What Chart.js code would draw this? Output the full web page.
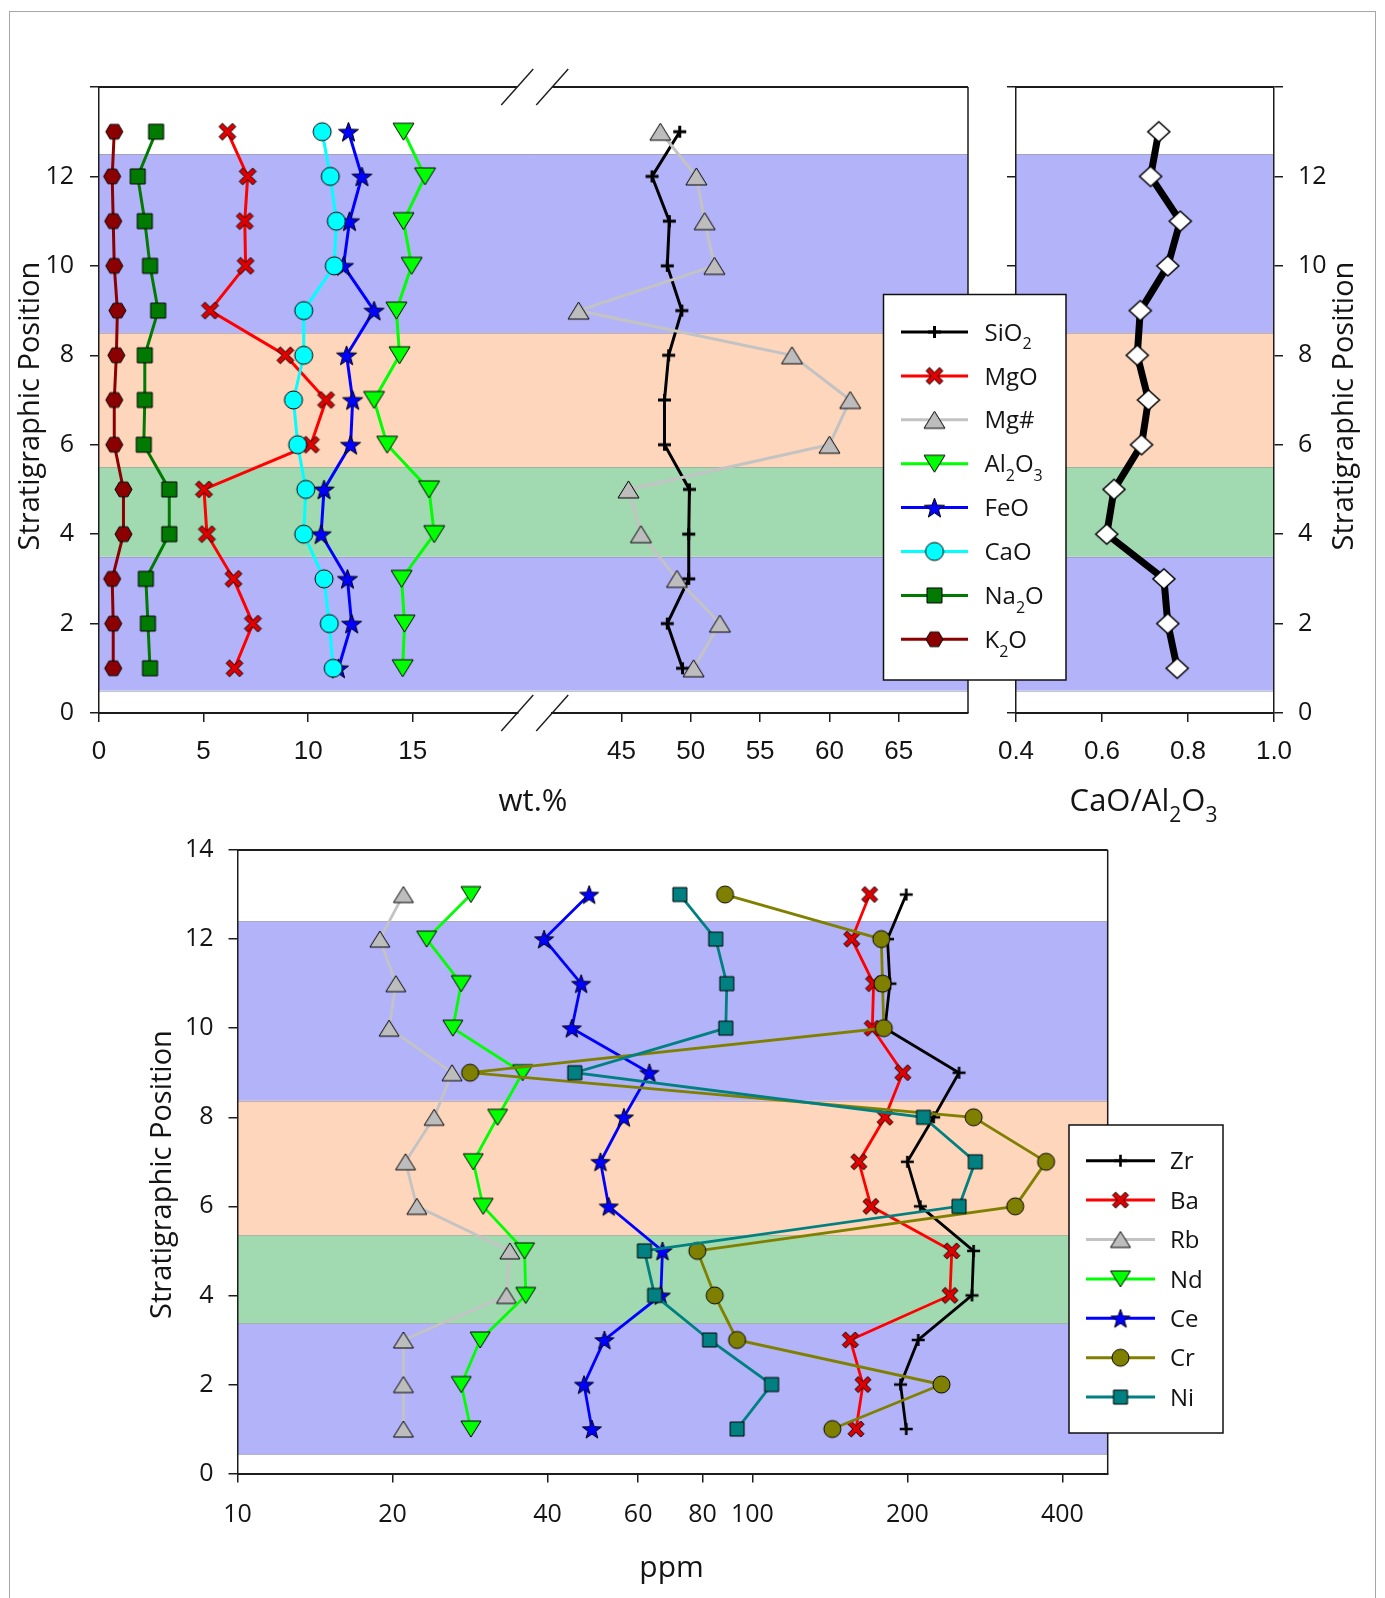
<!DOCTYPE html>
<html>
<head>
<meta charset="utf-8">
<title>Stratigraphic geochemistry</title>
<script src="https://cdn.jsdelivr.net/npm/chart.js@4.4.1/dist/chart.umd.min.js"></script>
<style>
  html, body { margin:0; padding:0; background:#ffffff; }
  body { width:1385px; height:1598px; position:relative; overflow:hidden; }
  #frame { position:absolute; left:9px; top:11px; width:1367px; height:1640px; border:1px solid #a6a6a6; box-sizing:border-box; }
  canvas { position:absolute; display:block; }
  #cA { left:0; top:0; z-index:3; }
  #cB { left:990px; top:0; z-index:2; }
  #cC { left:0; top:820px; z-index:2; }
</style>
</head>
<body>
<div id="frame"></div>
<canvas id="cB" width="395" height="830"></canvas>
<canvas id="cA" width="1080" height="830"></canvas>
<canvas id="cC" width="1385" height="778"></canvas>
<script>
// ---------------- DATA (stratigraphic positions 1 -> 13) ----------------
const positions = [1, 2, 3, 4, 5, 6, 7, 8, 9, 10, 11, 12, 13];

// major elements, wt.%
const SiO2  = [49.4, 48.3, 49.85, 49.85, 49.9, 48.1, 48.1, 48.4, 49.35, 48.3, 48.45, 47.2, 49.2];
const MgO   = [6.48, 7.36, 6.43, 5.16, 5.02, 10.13, 10.86, 8.91, 5.31, 7.01, 6.97, 7.11, 6.14];
const MgNum = [50.2, 52.1, 49.0, 46.4, 45.5, 60.0, 61.5, 57.3, 41.9, 51.7, 51.0, 50.4, 47.8];
const Al2O3 = [14.52, 14.61, 14.47, 16.03, 15.78, 13.78, 13.15, 14.37, 14.22, 14.95, 14.56, 15.59, 14.56];
const FeO   = [11.45, 12.08, 11.88, 10.62, 10.76, 12.03, 12.13, 11.84, 13.15, 11.69, 11.98, 12.57, 11.93];
const CaO   = [11.20, 11.01, 10.76, 9.79, 9.89, 9.50, 9.30, 9.79, 9.79, 11.25, 11.35, 11.06, 10.67];
const Na2O  = [2.44, 2.34, 2.24, 3.36, 3.36, 2.14, 2.19, 2.19, 2.83, 2.44, 2.19, 1.85, 2.73];
const K2O   = [0.68, 0.68, 0.63, 1.17, 1.17, 0.73, 0.73, 0.83, 0.88, 0.73, 0.68, 0.63, 0.73];

// ratio
const CaO_Al2O3 = [0.775, 0.753, 0.744, 0.611, 0.628, 0.692, 0.708, 0.682, 0.689, 0.753, 0.782, 0.713, 0.732];

// trace elements, ppm
const Zr = [199, 194, 210, 267, 269, 212, 200, 225, 252, 181, 185, 183, 199];
const Ba = [159, 164, 155, 242, 244, 170, 161, 181, 196, 171, 172, 156, 169];
const Rb = [21.0, 21.0, 21.0, 33.3, 33.8, 22.3, 21.2, 24.1, 26.1, 19.7, 20.3, 18.9, 21.0];
const Nd = [28.4, 27.2, 29.6, 36.3, 36.1, 30.0, 28.7, 32.0, 35.8, 26.2, 27.2, 23.3, 28.4];
const Ce = [48.8, 47.1, 51.6, 66.4, 66.9, 52.6, 50.7, 56.3, 63.1, 44.6, 46.5, 39.4, 48.2];
const Cr = [143, 233, 93.4, 84.5, 78.2, 324, 372, 269, 28.3, 180, 179, 178, 88.5];
const Ni = [93.4, 109, 82.6, 64.6, 61.7, 252, 271, 215, 45.2, 88.8, 89.2, 84.9, 72.3];

// labels and ticks
const majorLabels = ['SiO2', 'MgO', 'Mg#', 'Al2O3', 'FeO', 'CaO', 'Na2O', 'K2O'];
const traceLabels = ['Zr', 'Ba', 'Rb', 'Nd', 'Ce', 'Cr', 'Ni'];
const wtTicksLow  = [0, 5, 10, 15];
const wtTicksHigh = [45, 50, 55, 60, 65];
const posTicks    = [0, 2, 4, 6, 8, 10, 12, 14];
const ratioTicks  = [0.4, 0.6, 0.8, 1.0];
const ppmTicks    = [10, 20, 40, 60, 80, 100, 200, 400];

// lithological bands (stratigraphic position boundaries)
const bandEdgesTop    = [0.5, 3.5, 5.5, 8.5, 12.5];
const bandEdgesBottom = [0.43, 3.37, 5.35, 8.37, 12.4];

// ---------------- STYLE ----------------
const bandColors = ['#b3b3fa', '#a1d9b1', '#fdd6bc', '#b3b3fa'];
const AX = '#1c1c1c';
const TXT = '#141414';
const SANS = 'Open Sans';

function mk(w, h, fn) { const c = document.createElement('canvas'); c.width = w; c.height = h; const g = c.getContext('2d'); g.lineJoin = 'miter'; fn(g, w / 2, h / 2); return c; }
function path(g, pts) { g.beginPath(); pts.forEach((p, i) => i ? g.lineTo(p[0], p[1]) : g.moveTo(p[0], p[1])); g.closePath(); }
function fs(g, fill, lw) { g.fillStyle = fill; g.fill(); g.lineWidth = lw; g.strokeStyle = '#000'; g.stroke(); }
const Mk = {
  hex: (fill, r) => mk(2 * r + 4, 2 * r + 4, (g, cx, cy) => { const p = []; for (let k = 0; k < 6; k++) { const a = k * Math.PI / 3; p.push([cx + r * Math.cos(a), cy + r * Math.sin(a)]); } path(g, p); fs(g, fill, 1); }),
  square: (fill, s) => mk(s + 4, s + 4, (g, cx, cy) => { path(g, [[cx - s / 2, cy - s / 2], [cx + s / 2, cy - s / 2], [cx + s / 2, cy + s / 2], [cx - s / 2, cy + s / 2]]); fs(g, fill, 1); }),
  circle: (fill, r) => mk(2 * r + 4, 2 * r + 4, (g, cx, cy) => { g.beginPath(); g.arc(cx, cy, r, 0, 2 * Math.PI); fs(g, fill, 1); }),
  tri: (fill, w, h, down) => mk(w + 4, h + 4, (g, cx, cy) => { const s = down ? -1 : 1; path(g, [[cx, cy - s * h / 2], [cx + w / 2, cy + s * h / 2], [cx - w / 2, cy + s * h / 2]]); fs(g, fill, 1); }),
  star: (fill, R, r) => mk(2 * R + 4, 2 * R + 4, (g, cx, cy) => { const p = []; for (let k = 0; k < 10; k++) { const a = -Math.PI / 2 + k * Math.PI / 5; const rr = k % 2 ? r : R; p.push([cx + rr * Math.cos(a), cy + 1 + rr * Math.sin(a)]); } path(g, p); fs(g, fill, 1); }),
  cross: (fill, L, t) => mk(2 * L + 2, 2 * L + 2, (g, cx, cy) => { const b = [[t, -L], [t, -t], [L, -t], [L, t], [t, t], [t, L], [-t, L], [-t, t], [-L, t], [-L, -t], [-t, -t], [-t, -L]]; const c = Math.SQRT1_2; path(g, b.map(([x, y]) => [cx + (x - y) * c, cy + (x + y) * c])); fs(g, fill, 1); }),
  plus: (color, a, b, lw) => mk(2 * a + 4, 2 * b + 4, (g, cx, cy) => { g.strokeStyle = color; g.lineWidth = lw; g.beginPath(); g.moveTo(cx - a, cy); g.lineTo(cx + a, cy); g.moveTo(cx, cy - b); g.lineTo(cx, cy + b); g.stroke(); }),
  diamond: (fill, rx, ry) => mk(2 * rx + 4, 2 * ry + 4, (g, cx, cy) => { path(g, [[cx, cy - ry], [cx + rx, cy], [cx, cy + ry], [cx - rx, cy]]); fs(g, fill, 1.5); })
};

const majorSeries = [
  { label: majorLabels[0], values: SiO2,  axis: 'xR', color: '#000000', lw: 3, marker: Mk.plus('#000', 6.5, 6, 3) },
  { label: majorLabels[1], values: MgO,   axis: 'xL', color: '#ff0000', lw: 3, marker: Mk.cross('#e00000', 9.5, 2.4) },
  { label: majorLabels[2], values: MgNum, axis: 'xR', color: '#c3c3c3', lw: 3, marker: Mk.tri('#bdbdbd', 21, 17, false) },
  { label: majorLabels[3], values: Al2O3, axis: 'xL', color: '#00ff00', lw: 3, marker: Mk.tri('#00ff00', 21, 17, true) },
  { label: majorLabels[4], values: FeO,   axis: 'xL', color: '#0000ff', lw: 3, marker: Mk.star('#0000ff', 10.5, 4.3) },
  { label: majorLabels[5], values: CaO,   axis: 'xL', color: '#00ffff', lw: 3, marker: Mk.circle('#00ffff', 9) },
  { label: majorLabels[6], values: Na2O,  axis: 'xL', color: '#007a00', lw: 3, marker: Mk.square('#007a00', 15) },
  { label: majorLabels[7], values: K2O,   axis: 'xL', color: '#8b0000', lw: 3, marker: Mk.hex('#8b0000', 8.5) }
];
const traceSeries = [
  { label: traceLabels[0], values: Zr, color: '#000000', lw: 2.8, marker: Mk.plus('#000', 6.5, 6, 2.6) },
  { label: traceLabels[1], values: Ba, color: '#ff0000', lw: 2.8, marker: Mk.cross('#e00000', 9, 2.3) },
  { label: traceLabels[2], values: Rb, color: '#c3c3c3', lw: 2.8, marker: Mk.tri('#bdbdbd', 20, 16, false) },
  { label: traceLabels[3], values: Nd, color: '#00ff00', lw: 2.8, marker: Mk.tri('#00ff00', 20, 16, true) },
  { label: traceLabels[4], values: Ce, color: '#0000ff', lw: 2.8, marker: Mk.star('#0000ff', 10, 4.1) },
  { label: traceLabels[5], values: Cr, color: '#808000', lw: 2.8, marker: Mk.circle('#808000', 8.5) },
  { label: traceLabels[6], values: Ni, color: '#008080', lw: 2.8, marker: Mk.square('#008080', 14) }
];

function toDataset(s, xId, yId) {
  return {
    label: s.label,
    data: positions.map((p, i) => ({ x: s.values[i], y: p })),
    xAxisID: xId, yAxisID: yId, showLine: true, tension: 0,
    borderColor: s.color, backgroundColor: s.color, borderWidth: s.lw,
    pointStyle: s.marker, pointRadius: 9, pointHoverRadius: 9, clip: false
  };
}

// chemical-formula text: digits drawn as subscripts
function drawChem(ctx, text, x, y, size, align) {
  const parts = text.match(/(\d+|\D+)/g);
  const sub = Math.round(size * 0.68);
  let total = 0;
  const segs = parts.map(p => { const isSub = /^\d+$/.test(p); ctx.font = `${isSub ? sub : size}px "${SANS}"`; const w = ctx.measureText(p).width; total += w; return { p, isSub, w }; });
  let cx = align === 'center' ? x - total / 2 : x;
  ctx.textAlign = 'left'; ctx.textBaseline = 'alphabetic';
  segs.forEach(s => { ctx.font = `${s.isSub ? sub : size}px "${SANS}"`; ctx.fillText(s.p, cx, y + (s.isSub ? size * 0.36 : 0)); cx += s.w; });
}
function drawRotated(ctx, text, x, y, size) {
  ctx.save(); ctx.translate(x, y); ctx.rotate(-Math.PI / 2);
  ctx.font = `${size}px "${SANS}"`; ctx.textAlign = 'center'; ctx.textBaseline = 'middle';
  ctx.fillText(text, 0, 0); ctx.restore();
}
function line(ctx, x1, y1, x2, y2) { ctx.beginPath(); ctx.moveTo(x1, y1); ctx.lineTo(x2, y2); ctx.stroke(); }
function drawLegend(ctx, L, series) {
  ctx.save();
  ctx.fillStyle = '#fff'; ctx.fillRect(L.x, L.y, L.w, L.h);
  ctx.strokeStyle = '#111'; ctx.lineWidth = 1.5; ctx.strokeRect(L.x, L.y, L.w, L.h);
  series.forEach((s, i) => {
    const y = L.row0 + i * L.step;
    ctx.strokeStyle = s.color; ctx.lineWidth = 3; line(ctx, L.lx1, y, L.lx2, y);
    const m = s.marker, cx = (L.lx1 + L.lx2) / 2;
    ctx.drawImage(m, cx - m.width / 2, y - m.height / 2);
    ctx.fillStyle = TXT;
    drawChem(ctx, s.label, L.tx, y + L.size * 0.36, L.size, 'left');
  });
  ctx.restore();
}
function bands(edges, yId) {
  return { id: 'bands', beforeDraw(chart) {
    const { ctx, chartArea: a } = chart; const ys = chart.scales[yId];
    ctx.save();
    for (let i = 0; i < bandColors.length; i++) {
      const y1 = ys.getPixelForValue(edges[i]), y2 = ys.getPixelForValue(edges[i + 1]);
      ctx.fillStyle = bandColors[i]; ctx.fillRect(a.left, y2, a.right - a.left, y1 - y2);
    }
    ctx.strokeStyle = 'rgba(140,140,140,0.5)'; ctx.lineWidth = 1;
    edges.forEach(e => { const y = Math.round(ys.getPixelForValue(e)) + 0.5; line(ctx, a.left, y, a.right, y); });
    ctx.restore();
  } };
}
const fixedW = w => s => { s.width = w; };
const fixedH = h => s => { s.height = h; s.paddingLeft = 0; s.paddingRight = 0; };
const setTicks = arr => s => { s.ticks = arr.map(v => ({ value: v })); };
const gridOpts = () => ({ drawOnChartArea: false, drawTicks: true, tickLength: 9, color: AX, lineWidth: 1.5 });
const common = { responsive: false, animation: false, events: [], plugins: { legend: { display: false }, tooltip: { enabled: false } } };

// ---------------- CHART A : wt.% with broken axis ----------------
new Chart(document.getElementById('cA'), {
  type: 'scatter',
  data: { datasets: majorSeries.map(s => toDataset(s, s.axis, 'y')).reverse() },
  options: Object.assign({}, common, {
    layout: { padding: { top: 87, right: 112, left: 0, bottom: 0 } },
    scales: {
      y: { type: 'linear', position: 'left', min: 0, max: 14, afterBuildTicks: setTicks(posTicks), afterFit: fixedW(99),
           grid: gridOpts(), border: { color: AX, width: 1.5 },
           ticks: { callback: v => v === 14 ? '' : String(v), font: { family: SANS, size: 25 }, color: TXT, padding: 16 } },
      xL: { type: 'linear', position: 'bottom', stack: 'wt', stackWeight: 418.5, weight: 0, min: 0, max: 20,
            afterBuildTicks: setTicks(wtTicksLow), afterFit: fixedH(117), grid: gridOpts(), border: { color: AX, width: 2 },
            ticks: { autoSkip: false, maxRotation: 0, minRotation: 0, font: { family: 'Liberation Sans', size: 26 }, color: TXT, padding: 14 } },
      xG: { type: 'linear', position: 'bottom', stack: 'wt', stackWeight: 35, weight: 1, min: 0, max: 1,
            afterFit: fixedH(117), grid: { display: false }, border: { display: false }, ticks: { display: false } },
      xR: { type: 'linear', position: 'bottom', stack: 'wt', stackWeight: 416, weight: 2, min: 40, max: 70,
            afterBuildTicks: setTicks(wtTicksHigh), afterFit: fixedH(117), grid: gridOpts(), border: { color: AX, width: 2 },
            ticks: { autoSkip: false, maxRotation: 0, minRotation: 0, font: { family: 'Liberation Sans', size: 26 }, color: TXT, padding: 14 } }
    }
  }),
  plugins: [bands(bandEdgesTop, 'y'), { id: 'frameA', afterDraw(chart) {
    const { ctx, chartArea: a } = chart; const gl = chart.scales.xL.right, gr = chart.scales.xR.left;
    ctx.save(); ctx.strokeStyle = AX;
    ctx.lineWidth = 2; line(ctx, a.left, a.top, gl, a.top); line(ctx, gr, a.top, a.right, a.top);
    ctx.lineWidth = 1.5; line(ctx, a.right, a.top, a.right, a.bottom);
    ctx.lineWidth = 1.4;
    [a.top, a.bottom].forEach(y => [gl, gr].forEach(x => line(ctx, x - 16, y + 18, x + 16, y - 18)));
    ctx.fillStyle = TXT;
    drawRotated(ctx, 'Stratigraphic Position', 30.5, 406, 29);
    drawChem(ctx, 'wt.%', 533, 811, 31, 'center');
    ctx.restore();
    drawLegend(ctx, { x: 883.5, y: 294.5, w: 182.5, h: 385.5, row0: 332, step: 43.9, lx1: 901, lx2: 968, tx: 984.5, size: 24 }, majorSeries);
  } }]
});

// ---------------- CHART B : CaO/Al2O3 ----------------
const ratioSeries = { label: 'CaO/Al2O3', values: CaO_Al2O3, color: '#000000', lw: 7, marker: Mk.diamond('#ffffff', 11, 10) };
new Chart(document.getElementById('cB'), {
  type: 'scatter',
  data: { datasets: [toDataset(ratioSeries, 'x', 'yR')] },
  options: Object.assign({}, common, {
    layout: { padding: { top: 87, right: 0, left: 0, bottom: 0 } },
    scales: {
      yL: { type: 'linear', position: 'left', min: 0, max: 14, afterBuildTicks: setTicks(posTicks), afterFit: fixedW(26),
            grid: gridOpts(), border: { color: AX, width: 1.5 }, ticks: { display: false } },
      yR: { type: 'linear', position: 'right', min: 0, max: 14, afterBuildTicks: setTicks(posTicks), afterFit: fixedW(111),
            grid: gridOpts(), border: { color: AX, width: 1.5 },
            ticks: { callback: v => v === 14 ? '' : String(v), font: { family: SANS, size: 25 }, color: TXT, padding: 15 } },
      x: { type: 'linear', position: 'bottom', min: 0.4, max: 1.0, afterBuildTicks: setTicks(ratioTicks), afterFit: fixedH(117),
           grid: gridOpts(), border: { color: AX, width: 2 },
           ticks: { callback: v => v.toFixed(1), autoSkip: false, maxRotation: 0, minRotation: 0, font: { family: 'Liberation Sans', size: 26 }, color: TXT, padding: 14 } }
    }
  }),
  plugins: [bands(bandEdgesTop, 'yR'), { id: 'frameB', afterDraw(chart) {
    const { ctx, chartArea: a } = chart;
    ctx.save(); ctx.strokeStyle = AX; ctx.lineWidth = 2; line(ctx, a.left, a.top, a.right, a.top);
    ctx.fillStyle = TXT;
    drawRotated(ctx, 'Stratigraphic Position', 355, 406, 29);
    drawChem(ctx, 'CaO/Al2O3', 153.5, 811, 31, 'center');
    ctx.restore();
  } }]
});

// ---------------- CHART C : ppm (log) ----------------
new Chart(document.getElementById('cC'), {
  type: 'scatter',
  data: { datasets: traceSeries.map(s => toDataset(s, 'x', 'y')).reverse() },
  options: Object.assign({}, common, {
    layout: { padding: { top: 28, right: 277.3, left: 0, bottom: 0 } },
    scales: {
      y: { type: 'linear', position: 'left', min: 0, max: 14, afterBuildTicks: setTicks(posTicks), afterFit: fixedW(237.5),
           grid: gridOpts(), border: { color: AX, width: 1.5 },
           ticks: { callback: v => String(v), font: { family: SANS, size: 25 }, color: TXT, padding: 15 } },
      x: { type: 'logarithmic', position: 'bottom', min: 10, max: 490, afterBuildTicks: setTicks(ppmTicks), afterFit: fixedH(124.4),
           grid: gridOpts(), border: { color: AX, width: 2 },
           ticks: { callback: v => String(v), autoSkip: false, maxRotation: 0, minRotation: 0, font: { family: SANS, size: 25 }, color: TXT, padding: 17 } }
    }
  }),
  plugins: [bands(bandEdgesBottom, 'y'), { id: 'frameC', afterDraw(chart) {
    const { ctx, chartArea: a } = chart;
    ctx.save(); ctx.strokeStyle = AX;
    ctx.lineWidth = 2; line(ctx, a.left, a.top, a.right, a.top);
    ctx.lineWidth = 1.5; line(ctx, a.right, a.top, a.right, a.bottom);
    ctx.fillStyle = TXT;
    drawRotated(ctx, 'Stratigraphic Position', 163, 354.5, 29);
    drawChem(ctx, 'ppm', 671.6, 757, 30, 'center');
    ctx.restore();
    drawLegend(ctx, { x: 1069, y: 305, w: 154, h: 308, row0: 340.7, step: 39.4, lx1: 1086, lx2: 1155, tx: 1170, size: 24 }, traceSeries);
  } }]
});
</script>
</body>
</html>
